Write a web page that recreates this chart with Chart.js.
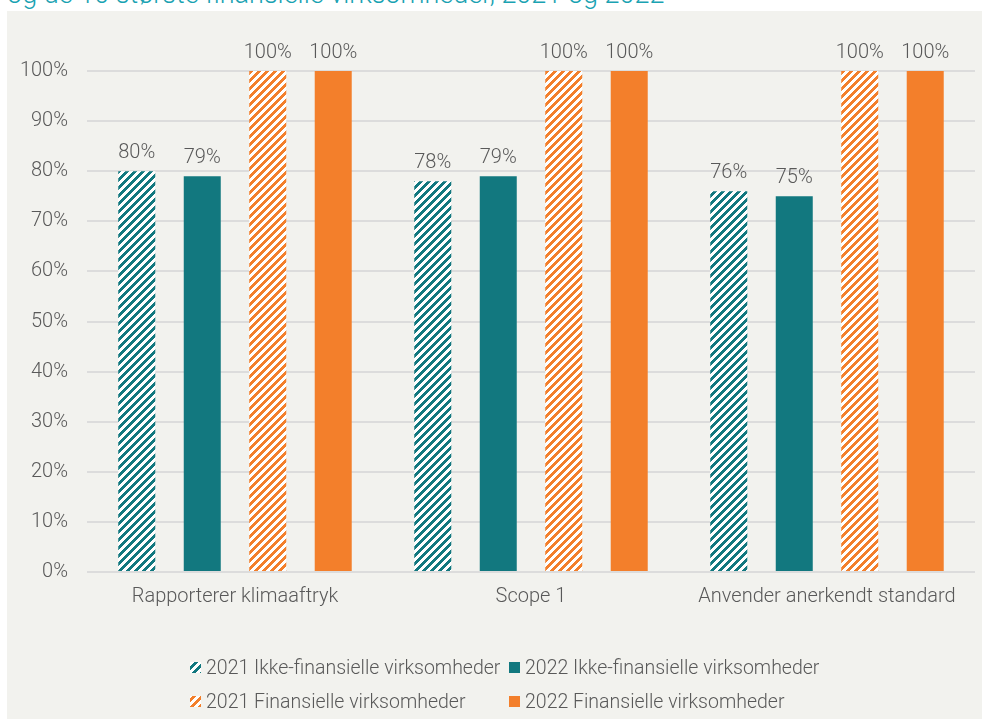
<!DOCTYPE html>
<html>
<head>
<meta charset="utf-8">
<script src="https://cdn.jsdelivr.net/npm/chart.js@4.4.1/dist/chart.umd.min.js"></script>
<style>
  body { margin: 0; background: #fff; width: 982px; height: 719px; overflow: hidden; position: relative; }
  #panel { position: absolute; left: 7px; top: 11px; right: 0; bottom: 0; background: #f2f2ee; }
  #title { position: absolute; left: 7px; top: -19px; font: 300 27px/27px Roboto, sans-serif; color: #1aa2b2; white-space: nowrap; }
  #wrap { position: absolute; left: 0; top: 0; width: 982px; height: 719px; }
</style>
</head>
<body>
<div id="panel"></div>
<div id="title">og de 10 største finansielle virksomheder, 2021 og 2022</div>
<div id="wrap"><canvas id="myChart"></canvas></div>
<script>
let categories = ["Rapporterer klimaaftryk", "Scope 1", "Anvender anerkendt standard"];
let seriesNames = [
  "2021 Ikke-finansielle virksomheder",
  "2022 Ikke-finansielle virksomheder",
  "2021 Finansielle virksomheder",
  "2022 Finansielle virksomheder",
];
let ikke2021 = [80, 78, 76];
let ikke2022 = [79, 79, 75];
let fin2021 = [100, 100, 100];
let fin2022 = [100, 100, 100];
let yTicks = [0, 10, 20, 30, 40, 50, 60, 70, 80, 90, 100];

const teal = "#12787f";
const orange = "#f37f2b";
const textColor = "#595959";
const font = "Roboto";

// pixel style diagonal hatch, like the original export
function hatch(color) {
  let c = document.createElement("canvas");
  c.width = 8;
  c.height = 8;
  let ctx = c.getContext("2d");
  ctx.fillStyle = "#fff";
  ctx.fillRect(0, 0, 8, 8);
  ctx.fillStyle = color;
  for (let x = 0; x < 8; x++) {
    for (let y = 0; y < 8; y++) {
      if ((x + y) % 8 < 4) ctx.fillRect(x, y, 1, 1);
    }
  }
  return ctx.createPattern(c, "repeat");
}

const fills = [hatch(teal), teal, hatch(orange), orange];

const valueLabels = {
  id: "valueLabels",
  afterDatasetsDraw(chart) {
    let ctx = chart.ctx;
    ctx.save();
    ctx.font = "300 20px " + font;
    ctx.fillStyle = textColor;
    ctx.textAlign = "center";
    ctx.textBaseline = "middle";
    chart.data.datasets.forEach((ds, i) => {
      chart.getDatasetMeta(i).data.forEach((bar, j) => {
        ctx.fillText(ds.data[j] + "%", bar.x, bar.y - 18);
      });
    });
    ctx.restore();
  },
};

// legend laid out in two aligned columns
const gridLegend = {
  id: "gridLegend",
  afterDraw(chart) {
    let ctx = chart.ctx;
    let cols = [190, 509];
    let rows = [669, 703];
    ctx.save();
    ctx.font = "300 19.5px " + font;
    ctx.textBaseline = "middle";
    ctx.textAlign = "left";
    chart.data.datasets.forEach((ds, i) => {
      let x = cols[i % 2];
      let y = rows[Math.floor(i / 2)];
      ctx.fillStyle = ds.backgroundColor;
      ctx.fillRect(x, y - 7, 11, 11);
      ctx.fillStyle = textColor;
      ctx.fillText(ds.label, x + 16, y);
    });
    ctx.restore();
  },
};

const datasets = [ikke2021, ikke2022, fin2021, fin2022].map((d, i) => ({
  label: seriesNames[i],
  data: d,
  backgroundColor: fills[i],
  borderWidth: 0,
  categoryPercentage: 0.885,
  barPercentage: 0.565,
}));

new Chart(document.getElementById("myChart"), {
  type: "bar",
  data: { labels: categories, datasets: datasets },
  plugins: [valueLabels, gridLegend],
  options: {
    responsive: true,
    maintainAspectRatio: false,
    animation: false,
    layout: { padding: { top: 71, right: 7, bottom: 107, left: 0 } },
    plugins: { legend: { display: false }, tooltip: { enabled: false } },
    scales: {
      x: {
        grid: { display: false, drawTicks: false },
        border: { display: false },
        ticks: { color: textColor, font: { family: font, size: 20, weight: 300 }, padding: 13 },
        afterFit(scale) { scale.height = 40; },
      },
      y: {
        min: 0,
        max: 100,
        afterBuildTicks(scale) { scale.ticks = yTicks.map((v) => ({ value: v })); },
        grid: { color: "#dcdcdc", lineWidth: 2, drawTicks: false },
        border: { display: false },
        ticks: {
          color: textColor,
          font: { family: font, size: 20, weight: 300 },
          padding: 19,
          callback: (v) => v + "%",
        },
        afterFit(scale) { scale.width = 87; },
      },
    },
  },
});
</script>
</body>
</html>
